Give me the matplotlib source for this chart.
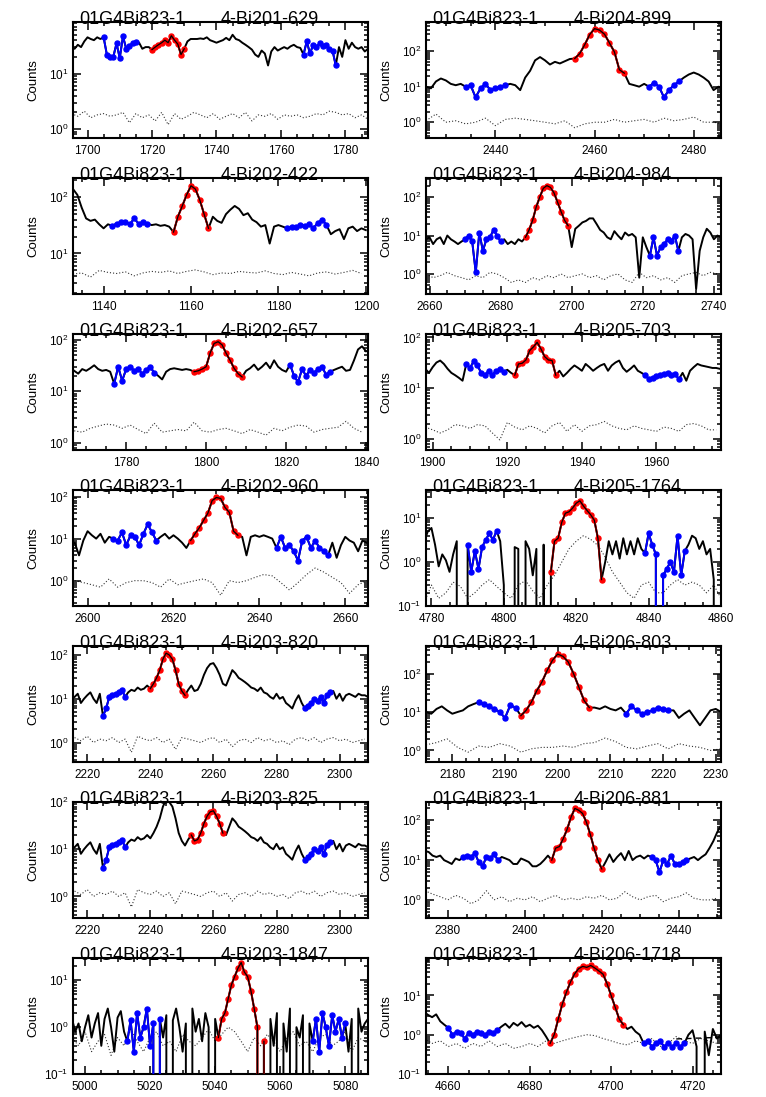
import numpy as np
import matplotlib.pyplot as plt
from matplotlib.ticker import LogLocator, MultipleLocator, NullFormatter

plt.rcParams['font.family'] = ['Liberation Sans', 'DejaVu Sans']
plt.rcParams['mathtext.fontset'] = 'custom'
plt.rcParams['mathtext.rm'] = 'Liberation Sans'
plt.rcParams['mathtext.it'] = 'Liberation Sans'

run_name = '01G4Bi823-1'

# ---- spectra (counts per channel, starting at *_start), background every 2 channels ----
p1_label = '4-Bi201-629'
p1_start = 1695
p1_counts = [30, 28, 33, 30, 38, 45, 42, 40, 45, 42, 45, 22, 20, 20, 35, 19, 47, 28, 32, 35,
             37, 36, 28, 30, 30, 27, 30, 33, 36, 40, 36, 48, 40, 34, 22, 28, 38, 42, 42, 42,
             43, 42, 45, 40, 38, 36, 38, 40, 44, 40, 50, 42, 40, 36, 33, 30, 27, 22, 20, 26,
             23, 14, 25, 30, 26, 28, 30, 28, 31, 33, 30, 29, 22, 38, 23, 33, 30, 35, 31, 33,
             28, 26, 14, 30, 20, 40, 28, 36, 30, 28, 30, 25, 28]
p1_bkg = [1.9, 1.7, 2.1, 1.6, 1.8, 1.9, 1.7, 1.8, 2.0, 1.3, 1.9, 1.6, 1.8, 1.4, 2.0, 1.2,
          1.9, 1.5, 1.7, 2.0, 1.8, 1.6, 1.9, 1.5, 1.7, 1.9, 1.6, 2.0, 1.4, 1.8, 1.7, 1.9,
          1.5, 1.8, 1.7, 1.8, 1.6, 1.7, 1.9, 1.8, 2.1, 2.0, 1.8, 1.9, 1.6, 1.8, 1.5]
p1_blue = [(1705, 1715), (1767, 1777)]
p1_red = (1720, 1730)

p2_label = '4-Bi204-899'
p2_start = 2426
p2_counts = [10, 9, 14, 17, 15, 12, 11, 12, 10, 11, 5, 9, 12, 8, 9, 10, 11, 12, 11, 8,
             18, 28, 55, 68, 55, 42, 50, 45, 52, 60, 62, 85, 150, 290, 430, 390, 300, 170, 95, 30,
             24, 12, 11, 10, 12, 10, 13, 10, 5, 8, 11, 14, 18, 22, 25, 22, 18, 14, 8, 10, 9]
p2_bkg = [1.1, 1.7, 1.0, 1.1, 0.9, 1.0, 1.3, 0.8, 1.2, 1.3, 1.2, 1.1, 1.0, 0.9, 1.1, 0.7,
          0.9, 1.0, 1.0, 1.2, 1.0, 1.1, 1.2, 1.0, 1.3, 1.1, 1.2, 1.4, 1.0, 1.0, 0.9]
p2_blue = [(2434, 2442), (2471, 2477)]
p2_red = (2456, 2466)

p3_label = '4-Bi202-422'
p3_start = 1133
p3_counts = [140, 110, 65, 42, 38, 40, 33, 28, 33, 31, 34, 36, 37, 33, 42, 34, 36, 34, 32, 33,
             31, 32, 30, 24, 45, 70, 110, 160, 140, 90, 50, 28, 45, 38, 35, 50, 60, 70, 62, 48,
             52, 40, 36, 30, 32, 15, 30, 32, 30, 28, 30, 30, 32, 31, 33, 28, 35, 40, 32, 22,
             25, 27, 18, 28, 30, 25, 28, 26]
p3_bkg = [4.3, 4.5, 3.8, 5.0, 4.6, 4.4, 4.7, 4.0, 4.5, 4.8, 4.6, 4.9, 4.4, 4.8, 5.1, 4.7,
          4.2, 4.5, 4.4, 4.8, 4.6, 4.5, 4.9, 4.4, 4.2, 4.6, 4.3, 4.0, 4.5, 4.7, 4.3, 4.6,
          5.0, 4.4]
p3_blue = [(1142, 1150), (1182, 1191)]
p3_red = (1156, 1164)

p4_label = '4-Bi204-984'
p4_start = 2659
p4_counts = [8, 9, 6, 8, 9, 6, 10, 8, 7, 6, 7, 8, 10, 7, 1.1, 12, 4, 8, 9, 14,
             10, 7, 8, 6, 7, 6, 8, 7, 9, 14, 25, 55, 100, 170, 200, 180, 130, 75, 42, 25,
             18, 5, 15, 18, 22, 24, 28, 28, 20, 14, 12, 9, 8, 13, 10, 8, 12, 10, 11, 9,
             0.8, 9, 5, 3, 9, 3, 5, 6, 8, 7, 10, 4, 9, 11, 10, 8, 0.4, 4, 9, 15,
             12, 8, 10, 9]
p4_bkg = [1.0, 0.8, 0.9, 1.1, 0.9, 0.8, 0.7, 0.9, 0.8, 1.1, 1.0, 0.8, 0.6, 0.7, 0.6, 0.8,
          0.7, 0.9, 0.8, 1.0, 0.8, 0.9, 1.0, 0.8, 0.9, 0.7, 0.9, 1.0, 0.7, 0.6, 1.1, 0.8,
          0.9, 0.7, 0.8, 0.6, 0.9, 1.0, 1.1, 0.9, 1.1, 1.0]
p4_blue = [(2670, 2680), (2722, 2730)]
p4_red = (2687, 2699)

p5_label = '4-Bi202-657'
p5_start = 1767
p5_counts = [25, 22, 27, 25, 28, 32, 27, 25, 26, 24, 14, 30, 16, 27, 30, 25, 27, 22, 26, 30,
             23, 20, 17, 24, 27, 28, 27, 26, 27, 26, 24, 25, 27, 30, 55, 85, 92, 80, 55, 40,
             28, 22, 19, 25, 28, 33, 26, 30, 36, 28, 40, 30, 26, 24, 33, 20, 15, 27, 20, 26,
             23, 27, 30, 21, 24, 26, 28, 30, 25, 26, 40, 65, 75, 60]
p5_bkg = [1.7, 1.6, 1.9, 2.1, 2.3, 2.2, 1.9, 2.2, 1.8, 1.5, 2.4, 1.6, 1.7, 1.8, 1.7, 2.5,
          1.7, 1.6, 1.8, 1.9, 1.7, 1.5, 1.8, 1.6, 1.4, 1.9, 1.7, 2.0, 2.2, 2.1, 1.6, 1.8,
          1.9, 2.0, 2.6, 1.9, 1.6]
p5_blue = [(1777, 1787), (1821, 1831)]
p5_red = (1797, 1809)

p6_label = '4-Bi205-703'
p6_start = 1898
p6_counts = [24, 20, 26, 32, 35, 30, 24, 20, 18, 16, 14, 30, 25, 34, 28, 20, 18, 22, 18, 22,
             24, 21, 23, 20, 18, 30, 31, 36, 55, 65, 80, 60, 42, 36, 35, 18, 22, 17, 20, 24,
             28, 25, 22, 30, 26, 22, 25, 28, 30, 22, 28, 32, 35, 25, 21, 24, 28, 22, 20, 18,
             15, 16, 17, 18, 19, 20, 18, 19, 15, 20, 14, 22, 26, 30, 28, 27, 26, 25, 25, 24]
p6_bkg = [1.7, 1.5, 1.3, 1.5, 1.9, 1.8, 1.6, 1.9, 1.8, 1.3, 0.95, 2.1, 1.7, 1.5, 1.8, 1.6,
          1.3, 1.8, 2.1, 1.4, 1.9, 1.4, 1.8, 1.9, 2.2, 1.8, 1.6, 1.5, 1.8, 1.6, 1.5, 1.4,
          1.7, 1.6, 1.4, 1.9, 2.0, 1.8, 1.5, 1.5]
p6_blue = [(1909, 1919), (1957, 1966)]
p6_red = (1922, 1933)

p7_label = '4-Bi202-960'
p7_start = 2597
p7_counts = [8, 4, 9, 15, 12, 10, 13, 8, 11, 10, 9, 14, 7, 12, 11, 7, 13, 22, 14, 9,
             11, 13, 10, 12, 10, 8, 6, 9, 13, 18, 27, 40, 80, 95, 90, 55, 42, 15, 12, 11,
             4, 11, 12, 11, 12, 11, 10, 6, 11, 6, 7, 5, 3, 9, 11, 6, 9, 6, 5, 4,
             8, 3.5, 7, 11, 9, 8, 5, 9, 8]
p7_bkg = [1.0, 0.9, 0.8, 0.7, 1.1, 0.7, 0.9, 1.0, 1.0, 0.9, 0.7, 1.1, 0.8, 0.9, 1.0, 1.1,
          0.9, 0.45, 1.0, 0.9, 1.0, 1.2, 1.4, 1.3, 0.9, 0.6, 0.9, 1.4, 2.0, 1.6, 1.2, 0.9,
          0.5, 0.8, 1.0]
p7_blue = [(2606, 2616), (2644, 2656)]
p7_red = (2624, 2635)

p8_label = '4-Bi205-1764'
p8_start = 4778
p8_counts = [3, 5, 6, 2.5, 0.8, 1.5, 1.1, 0.6, 1.5, 3, 0, 0, 2.5, 0.6, 1.8, 0.7, 2.2, 3.2, 4.5, 3.2,
             5.2, 3, 0.3, 0, 0, 2.2, 2, 0, 3, 2, 0.5, 2, 0, 2.5, 0, 0.6, 3, 3.5, 8, 13,
             14, 17, 22, 25, 19, 15, 12, 9, 3.5, 0.4, 1, 3, 1.5, 3, 1.2, 3.5, 1.5, 3, 1.5, 3.5,
             2, 1.6, 4.5, 2.5, 1.5, 0, 0.5, 0.7, 1, 0.6, 4, 0.5, 1.8, 2.5, 4, 3.5, 2, 3, 1.5, 2,
             0.4, 0, 2]
p8_bkg = [0.12, 0.3, 0.15, 0.2, 0.35, 0.28, 0.15, 0.2, 0.3, 0.4, 0.28, 0.2, 0.15, 0.3,
          0.38, 0.22, 0.15, 0.3, 0.5, 1.0, 2.0, 3.0, 4.0, 3.3, 2.4, 1.3, 0.6, 0.35, 0.2,
          0.15, 0.3, 0.35, 0.2, 0.2, 0.3, 0.4, 0.3, 0.35, 0.3, 0.2, 0.3, 0.15]
p8_blue = [(4790, 4798), (4839, 4850)]
p8_red = (4813, 4827)

# Bi203-820 and Bi203-825 come from the same stretch of spectrum
p9_label = '4-Bi203-820'
p9_start = 2216
p9_counts = [11, 13, 8, 10, 12, 14, 10, 8, 13, 4, 6, 11, 12, 13, 14, 16, 11, 14, 16, 15,
             18, 16, 17, 20, 17, 22, 30, 45, 80, 110, 100, 80, 45, 22, 15, 12, 16, 20, 15, 16,
             22, 35, 50, 62, 65, 50, 35, 22, 20, 30, 45, 38, 30, 27, 24, 21, 18, 17, 15, 18,
             14, 13, 11, 10, 13, 10, 11, 8, 7, 6, 9, 12, 8, 6, 7, 8, 10, 9, 11, 8,
             12, 14, 15, 10, 13, 9, 12, 13, 12, 11, 13, 12, 12, 11]
p9_bkg = [1.3, 1.1, 1.4, 1.0, 1.2, 1.1, 1.3, 1.0, 1.2, 0.6, 1.4, 1.2, 1.1, 1.3, 1.0, 1.2,
          0.7, 1.3, 1.2, 1.1, 1.0, 1.2, 1.3, 1.0, 1.2, 0.8, 1.1, 1.2, 1.0, 1.3, 1.1, 1.2,
          1.0, 1.1, 0.9, 1.2, 1.3, 1.1, 1.3, 1.0, 1.2, 1.3, 1.1, 1.2, 1.0, 1.1, 1.2]
p9_blue = [(2225, 2232), (2289, 2297)]
p9_red = (2240, 2251)

p10_label = '4-Bi206-803'
p10_start = 2175
p10_counts = [10, 9, 12, 14, 11, 9, 10, 11, 14, 16, 18, 16, 14, 12, 10, 7, 15, 13, 8, 11,
              18, 35, 60, 120, 220, 320, 280, 200, 100, 45, 20, 13, 13, 12, 14, 12, 11, 13, 9, 14,
              11, 9, 10, 11, 13, 12, 11, 11, 7, 9, 11, 7, 4.5, 7, 11, 12, 10]
p10_bkg = [1.4, 1.6, 2.0, 1.2, 0.9, 1.3, 1.2, 1.5, 1.3, 0.9, 1.1, 1.2, 1.2, 1.3, 1.2, 1.5,
           1.6, 2.1, 1.7, 1.2, 1.1, 1.3, 1.5, 1.1, 1.5, 1.3, 1.2, 1.0, 1.1]
p10_blue = [(2185, 2192), (2213, 2221)]
p10_red = (2193, 2206)

p11_label = '4-Bi203-825'
p11_start = p9_start
p11_counts = p9_counts
p11_bkg = p9_bkg
p11_blue = [(2225, 2232), (2289, 2297)]
p11_red = (2253, 2263)

p12_label = '4-Bi206-881'
p12_start = 2374
p12_counts = [17, 16, 13, 12, 13, 10, 9, 8, 11, 10, 12, 13, 12, 15, 9, 7, 12, 11, 14, 10,
              12, 11, 10, 8, 8, 11, 10, 9, 7, 7, 8, 10, 13, 10, 20, 22, 35, 60, 120, 200,
              180, 150, 90, 45, 20, 10, 6, 9, 14, 9, 12, 15, 10, 17, 10, 12, 13, 11, 13, 12,
              10, 5, 10, 8, 13, 8, 8, 9, 10, 11, 12, 10, 12, 14, 20, 30, 50, 75]
p12_bkg = [1.7, 1.4, 1.2, 1.0, 1.3, 1.1, 0.8, 1.0, 1.7, 1.0, 1.2, 0.9, 1.1, 1.0, 1.2, 0.9,
           1.1, 1.3, 1.0, 1.1, 1.0, 1.2, 1.1, 1.3, 1.0, 1.1, 1.6, 1.2, 1.0, 1.2, 1.3, 0.9,
           1.1, 1.2, 1.5, 1.1, 1.0, 1.0, 1.1]
p12_blue = [(2384, 2393), (2433, 2442)]
p12_red = (2407, 2420)

p13_label = '4-Bi203-1847'
p13_start = 4996
p13_counts = [1.5, 0.8, 1.2, 0.5, 1.0, 1.8, 0.6, 1.2, 2.0, 0.4, 1.5, 2.5, 1.0, 0.3, 1.6, 2.2,
              0.8, 0.5, 1.4, 0.3, 2.0, 0.6, 1.0, 2.5, 0.4, 1.2, 0, 1.5, 0.6, 1.8, 0, 1.4,
              2.5, 1.0, 0.3, 1.2, 0, 2.5, 0.8, 1.5, 0.5, 2.0, 1.0, 0, 1.5, 0.6, 1.5, 2.0,
              4, 8, 12, 18, 24, 15, 12, 6, 2.5, 1.0, 0, 0.5, 0, 1.5, 0.4, 2.0, 0, 1.2,
              0.3, 2.5, 0, 1.0, 0.6, 1.8, 0, 1.2, 0.5, 1.5, 0.3, 2.0, 1.0, 0.4, 1.8, 0.8,
              1.5, 0.6, 1.2, 0.3, 1.5, 0, 2.5, 0.8, 1.2, 1.5]
p13_bkg = [0.6, 0.4, 0.8, 0.3, 0.5, 0.7, 0.25, 0.6, 0.4, 0.9, 0.5, 0.3, 0.6, 0.8, 0.4, 0.5,
           0.3, 0.7, 0.5, 0.4, 0.6, 0.9, 0.5, 0.7, 1.0, 0.8, 0.5, 0.3, 0.6, 0.4, 0.7, 0.5,
           0.3, 0.6, 0.8, 0.4, 0.5, 0.3, 0.6, 0.7, 0.4, 0.5, 0.8, 0.3, 0.6, 0.5, 0.4]
p13_blue = [(5013, 5023), (5070, 5080)]
p13_red = (5041, 5055)

p14_label = '4-Bi206-1718'
p14_start = 4654
p14_counts = [3.8, 3.2, 2.8, 3.3, 2.2, 1.8, 1.5, 1.0, 1.2, 1.1, 0.8, 1.1, 1.0, 1.2, 1.1, 1.0,
              1.2, 1.1, 1.3, 1.6, 1.9, 1.5, 2.0, 1.7, 2.1, 1.6, 1.8, 1.5, 1.7, 1.3, 0.9, 0.6,
              1.0, 2.5, 6, 12, 22, 35, 48, 55, 52, 58, 50, 42, 35, 20, 10, 5, 2.5, 1.8,
              1.4, 1.6, 1.2, 1.0, 0.6, 0.7, 0.5, 0.6, 0.7, 0.5, 0.6, 0.5, 0.6, 0.5, 0.6, 1.0,
              1.3, 0.5, 0, 1.2, 0.3, 1.4, 0.8, 1.0]
p14_bkg = [0.8, 0.6, 0.7, 0.5, 0.6, 0.45, 0.6, 0.5, 0.7, 0.5, 0.6, 0.45, 0.5, 0.6, 0.5,
           0.7, 0.6, 0.7, 0.8, 0.9, 1.0, 0.95, 0.8, 0.7, 0.6, 0.55, 0.7, 0.6, 0.8, 0.5,
           0.6, 0.9, 0.7, 0.6, 0.8, 0.7, 0.6]
p14_blue = [(4660, 4672), (4708, 4718)]
p14_red = (4685, 4703)
# dashed background level drawn past the right-hand region
p14_fit_start = 4716
p14_fit = [0.78, 0.79, 0.8, 0.8, 0.81, 0.82, 0.82, 0.83, 0.84, 0.84, 0.85, 0.85]

# ---- layout: (label, start, counts, bkg, blue, red, xlim, ylim, xstep) in reading order ----
panels = [
    (p1_label, p1_start, p1_counts, p1_bkg, p1_blue, p1_red, (1695.5, 1787), (0.69, 85), 20),
    (p2_label, p2_start, p2_counts, p2_bkg, p2_blue, p2_red, (2426, 2485.5), (0.36, 660), 20),
    (p3_label, p3_start, p3_counts, p3_bkg, p3_blue, p3_red, (1133, 1200.5), (1.9, 220), 20),
    (p4_label, p4_start, p4_counts, p4_bkg, p4_blue, p4_red, (2659, 2742), (0.3, 316), 20),
    (p5_label, p5_start, p5_counts, p5_bkg, p5_blue, p5_red, (1766.7, 1840.5), (0.72, 130), 20),
    (p6_label, p6_start, p6_counts, p6_bkg, p6_blue, p6_red, (1898.2, 1977.3), (0.6, 117), 20),
    (p7_label, p7_start, p7_counts, p7_bkg, p7_blue, p7_red, (2596.6, 2665.3), (0.25, 143), 20),
    (p8_label, p8_start, p8_counts, p8_bkg, p8_blue, p8_red, (4778.5, 4860), (0.1, 44), 20),
    (p9_label, p9_start, p9_counts, p9_bkg, p9_blue, p9_red, (2215.5, 2309), (0.36, 160), 20),
    (p10_label, p10_start, p10_counts, p10_bkg, p10_blue, p10_red, (2175, 2231), (0.5, 520), 10),
    (p11_label, p11_start, p11_counts, p11_bkg, p11_blue, p11_red, (2215.5, 2309), (0.35, 100), 20),
    (p12_label, p12_start, p12_counts, p12_bkg, p12_blue, p12_red, (2374.3, 2451), (0.35, 290), 20),
    (p13_label, p13_start, p13_counts, p13_bkg, p13_blue, p13_red, (4996.3, 5087), (0.1, 30), 20),
    (p14_label, p14_start, p14_counts, p14_bkg, p14_blue, p14_red, (4654.5, 4727), (0.1, 90), 20),
]

W, H = 766, 1097
fig = plt.figure(figsize=(W / 100, H / 100), dpi=100)

col_left = [73, 426]
col_width = 295
row_height = 116
row_pitch = 156


def draw_panel(ax, label, start, counts, bkg, blue, red, xlim, ylim, xstep):
    ch = start + np.arange(len(counts))
    y = np.asarray(counts, dtype=float)
    ax.set_yscale('log')
    ax.plot(ch, y, color='black', lw=1.4, zorder=2)
    bch = start + 2 * np.arange(len(bkg))
    ax.plot(bch, bkg, color='0.2', ls=(0, (1, 1.8)), lw=0.8, zorder=1)
    for lo, hi in blue:
        m = (ch >= lo) & (ch <= hi)
        ax.plot(ch[m], y[m], color='blue', lw=1.4, marker='o', ms=3.6, zorder=3)
    m = (ch >= red[0]) & (ch <= red[1])
    ax.plot(ch[m], y[m], color='red', lw=1.4, marker='o', ms=3.6, zorder=3)
    ax.plot(ch[m], y[m], color='black', lw=0.9, zorder=4)

    ax.set_xlim(*xlim)
    ax.set_ylim(*ylim)
    ax.xaxis.set_major_locator(MultipleLocator(xstep))
    ax.xaxis.set_minor_locator(MultipleLocator(xstep / 4))
    ax.yaxis.set_major_locator(LogLocator(base=10, numticks=10))
    ax.yaxis.set_minor_locator(LogLocator(base=10, subs=np.arange(2, 10), numticks=10))
    ax.yaxis.set_minor_formatter(NullFormatter())
    ax.tick_params(which='both', direction='in', top=True, right=True, width=1.1)
    ax.tick_params(which='major', length=6, labelsize=8.5)
    ax.tick_params(which='minor', length=3)
    ax.tick_params(axis='x', which='major', pad=5)
    for s in ax.spines.values():
        s.set_linewidth(1.5)
    ax.set_ylabel('Counts', fontsize=9.5)
    ax.yaxis.set_label_coords(-0.115, 0.5)
    ax.text(0.02, 0.985, run_name, transform=ax.transAxes, fontsize=13,
            ha='left', va='baseline')
    ax.text(0.50, 0.985, label, transform=ax.transAxes, fontsize=13,
            ha='left', va='baseline')


axes = []
for i, p in enumerate(panels):
    row, col = divmod(i, 2)
    top = 22 + row * row_pitch
    ax = fig.add_axes([col_left[col] / W, 1 - (top + row_height) / H,
                       col_width / W, row_height / H])
    draw_panel(ax, *p)
    axes.append(ax)

# last panel: dashed background estimate on the right
fx = p14_fit_start + np.arange(len(p14_fit))
axes[13].plot(fx, p14_fit, color='black', ls=(0, (4, 3)), lw=1.0, zorder=2)

fig.savefig('out.png', dpi=100)
